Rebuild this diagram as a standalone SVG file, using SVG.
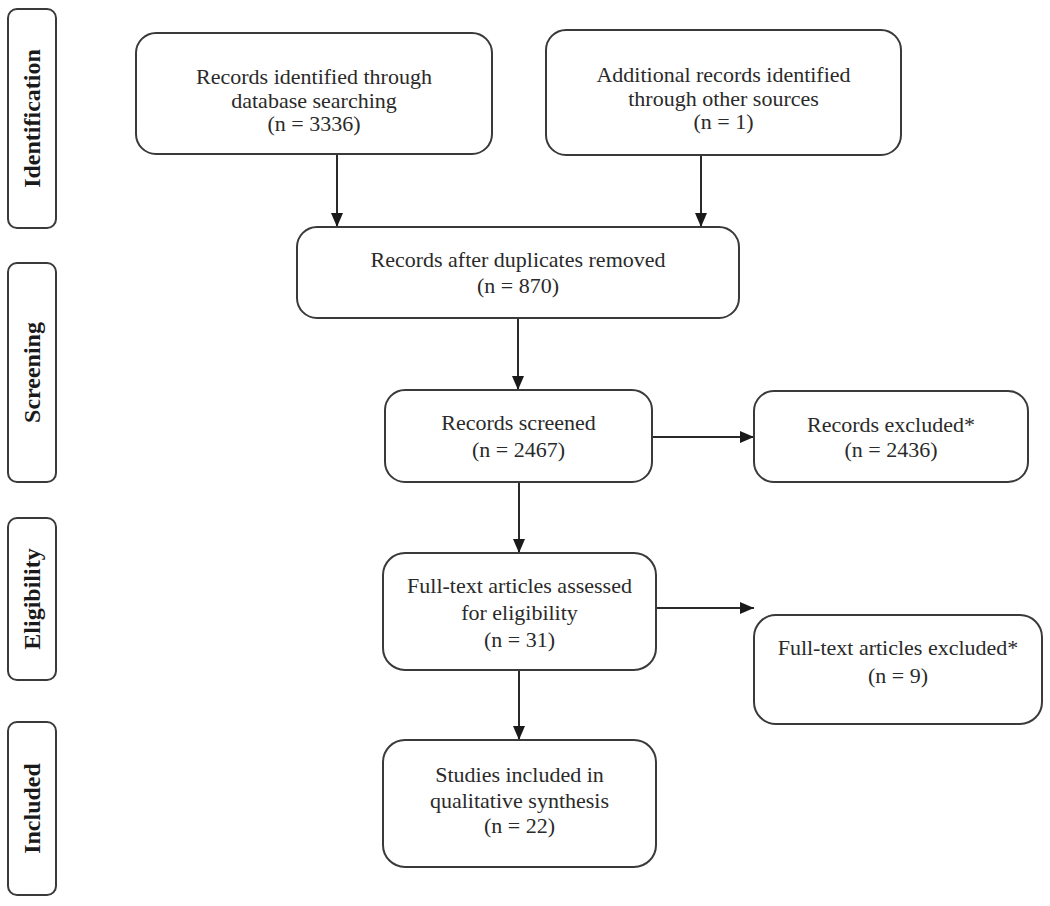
<svg xmlns="http://www.w3.org/2000/svg" width="1050" height="906" viewBox="0 0 1050 906">
<style>
.box{fill:#fff;stroke:#3a3a3a;stroke-width:2}
.side{fill:#fff;stroke:#3a3a3a;stroke-width:2}
.t{font-family:"Liberation Serif","Times New Roman",serif;font-size:22px;fill:#2a2a2a;text-anchor:middle}
.s{font-family:"Liberation Serif","Times New Roman",serif;font-size:24px;font-weight:bold;fill:#1a1a1a;text-anchor:middle;dominant-baseline:central}
.c{stroke:#2a2a2a;stroke-width:2;fill:none;marker-end:url(#ah)}
</style>
<defs>
<marker id="ah" markerUnits="userSpaceOnUse" markerWidth="14" markerHeight="12" refX="14" refY="6" orient="auto">
<path d="M0,0 L14,6 L0,12 Z" fill="#1a1a1a"/>
</marker>
</defs>
<rect width="1050" height="906" fill="#fff"/>
<g id="phase-identification"><rect class="side" x="8" y="9" width="48" height="219" rx="9"/><text class="s" transform="translate(32,118.5) rotate(-90)">Identification</text></g>
<g id="phase-screening"><rect class="side" x="8" y="263" width="48" height="219" rx="9"/><text class="s" transform="translate(32,372.5) rotate(-90)">Screening</text></g>
<g id="phase-eligibility"><rect class="side" x="8" y="518" width="48" height="162" rx="9"/><text class="s" transform="translate(32,599) rotate(-90)">Eligibility</text></g>
<g id="phase-included"><rect class="side" x="8" y="722" width="48" height="173" rx="9"/><text class="s" transform="translate(32,808.5) rotate(-90)">Included</text></g>
<g id="connectors">
<line class="c" x1="337" y1="154" x2="337" y2="227"/>
<line class="c" x1="701" y1="155" x2="701" y2="227"/>
<line class="c" x1="518" y1="318" x2="518" y2="390"/>
<line class="c" x1="652" y1="437" x2="754" y2="437"/>
<line class="c" x1="519" y1="482" x2="519" y2="553"/>
<line class="c" x1="656" y1="608" x2="754" y2="608"/>
<line class="c" x1="519" y1="670" x2="519" y2="740"/>
</g>
<g id="n1"><rect class="box" x="136" y="33" width="356" height="121" rx="20"/>
<text class="t" x="314" y="84">Records identified through</text><text class="t" x="314" y="108">database searching</text><text class="t" x="314" y="131">(n = 3336)</text></g>
<g id="n2"><rect class="box" x="546" y="30" width="355" height="125" rx="20"/>
<text class="t" x="723.5" y="82">Additional records identified</text><text class="t" x="723.5" y="106">through other sources</text><text class="t" x="723.5" y="129">(n = 1)</text></g>
<g id="n3"><rect class="box" x="297" y="227" width="442" height="91" rx="20"/>
<text class="t" x="518" y="267">Records after duplicates removed</text><text class="t" x="518" y="293">(n = 870)</text></g>
<g id="n4"><rect class="box" x="385" y="390" width="267" height="92" rx="20"/>
<text class="t" x="518.5" y="430">Records screened</text><text class="t" x="518.5" y="457">(n = 2467)</text></g>
<g id="n5"><rect class="box" x="754" y="391" width="274" height="91" rx="20"/>
<text class="t" x="891" y="432">Records excluded*</text><text class="t" x="891" y="457">(n = 2436)</text></g>
<g id="n6"><rect class="box" x="383" y="553" width="273" height="117" rx="22"/>
<text class="t" x="519.5" y="593">Full-text articles assessed</text><text class="t" x="519.5" y="620">for eligibility</text><text class="t" x="519.5" y="647">(n = 31)</text></g>
<g id="n7"><rect class="box" x="754" y="615" width="288" height="109" rx="22"/>
<text class="t" x="898" y="655">Full-text articles excluded*</text><text class="t" x="898" y="683">(n = 9)</text></g>
<g id="n8"><rect class="box" x="383" y="740" width="273" height="127" rx="22"/>
<text class="t" x="519.5" y="782">Studies included in</text><text class="t" x="519.5" y="808">qualitative synthesis</text><text class="t" x="519.5" y="833">(n = 22)</text></g>
</svg>
